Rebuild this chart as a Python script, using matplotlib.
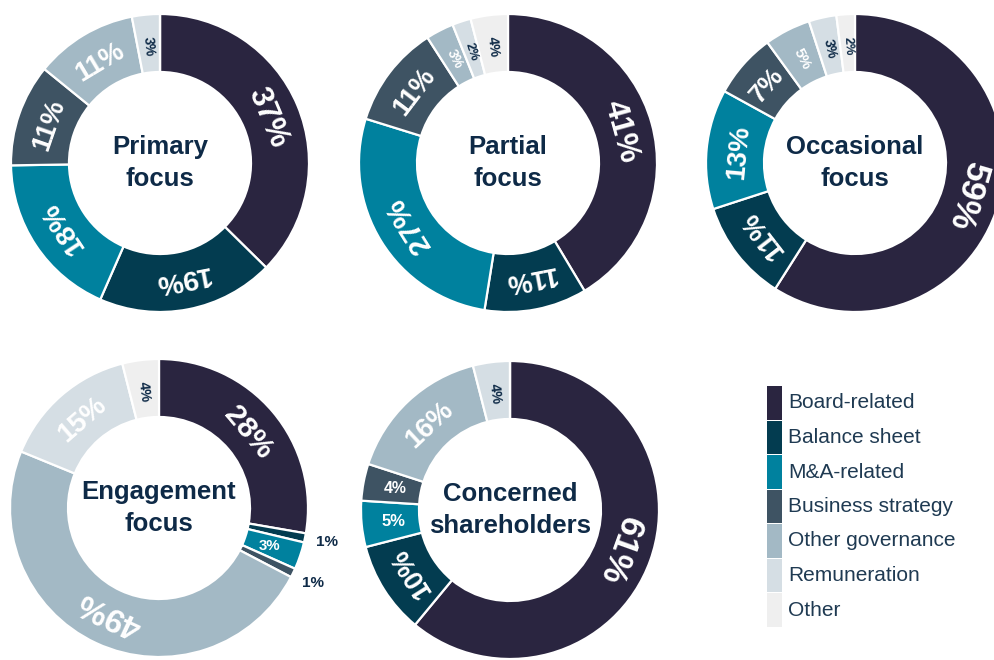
import numpy as np
import matplotlib.pyplot as plt
from matplotlib.patches import Rectangle

plt.rcParams['font.family'] = ['Liberation Sans', 'DejaVu Sans']

categories = ["Board-related", "Balance sheet", "M&A-related", "Business strategy",
              "Other governance", "Remuneration", "Other"]
colors = ["#2a2540", "#033c50", "#00819e", "#3e5363", "#a3b9c5", "#d5dee4", "#efefef"]

titles = ["Primary\nfocus", "Partial\nfocus", "Occasional\nfocus",
          "Engagement\nfocus", "Concerned\nshareholders"]
primary = [37, 19, 18, 11, 11, 3, 0]
partial = [41, 11, 27, 11, 3, 2, 4]
occasional = [59, 11, 13, 7, 5, 3, 2]
engagement = [28, 1, 3, 1, 49, 15, 4]
concerned = [61, 10, 5, 4, 16, 4, 0]
series = [primary, partial, occasional, engagement, concerned]

dark = "#0e2a47"
W, H = 994, 660
R, ring = 149, 58
# donut centres (pixels from top-left)
centres = [(160, 163), (508, 163), (855, 163), (159, 508), (510, 510)]

fig = plt.figure(figsize=(W / 100, H / 100), dpi=100)
ax = fig.add_axes([0, 0, 1, 1])

for title, vals, (cx, cy) in zip(titles, series, centres):
    c = (cx, H - cy)
    wedges, _ = ax.pie(vals, colors=colors, startangle=90, counterclock=False,
                       radius=R, center=c,
                       wedgeprops=dict(width=ring, edgecolor="white", linewidth=1.6))
    for i, (w, v) in enumerate(zip(wedges, vals)):
        if v == 0:
            continue
        mid = (w.theta1 + w.theta2) / 2
        a = np.deg2rad(mid)
        txt = f"{v}%"
        if v <= 1:
            r = R + 22
            x, y = c[0] + r * np.cos(a), c[1] + r * np.sin(a)
            ax.text(x, y, txt, ha="center", va="center", rotation=0,
                    fontsize=11, fontweight="bold", color=dark)
            continue
        r = R - ring / 2 - 3
        x, y = c[0] + r * np.cos(a), c[1] + r * np.sin(a)
        if v >= 7:
            fs = min(25, 18 + 0.12 * v)
            rot = mid - 90
            col = "white"
        else:
            fs = 8 + 0.6 * v
            col = dark if i >= 5 else "white"
            if abs(np.sin(a)) < 0.5:
                rot = 0
                fs += 1
            else:
                rot = mid - 180
        ax.text(x, y, txt, ha="center", va="center", rotation=rot,
                rotation_mode="anchor", fontsize=fs, fontweight="bold", color=col)
    ax.text(c[0], c[1], title, ha="center", va="center", fontsize=18.5,
            fontweight="bold", color=dark, linespacing=1.45)

# legend
for i, (cat, col) in enumerate(zip(categories, colors)):
    top = 386 + i * 34.5
    ax.add_patch(Rectangle((767, H - top - 33.5), 15, 33.5, facecolor=col,
                           edgecolor="none"))
    ax.text(788, H - top - 17, cat, ha="left", va="center", fontsize=15,
            color="#1f3a52")

ax.set_xlim(0, W)
ax.set_ylim(0, H)
ax.set_aspect("equal")
ax.axis("off")

fig.savefig("out.png", dpi=100)
